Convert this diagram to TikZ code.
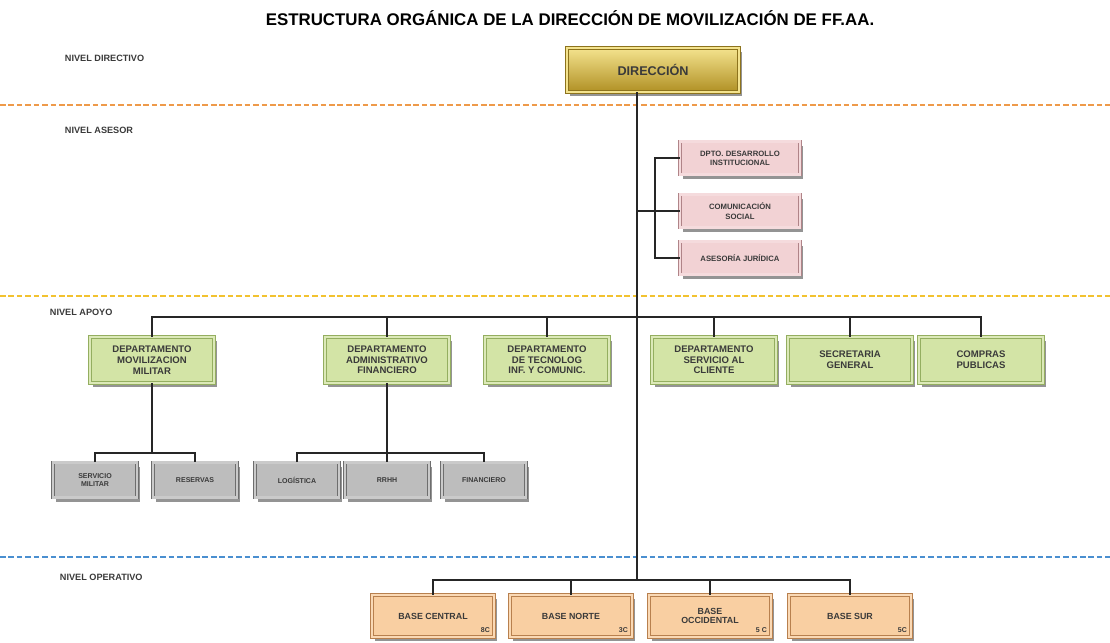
\documentclass[tikz,border=0pt]{standalone}
\usepackage{fontspec}
\setmainfont{Liberation Sans}
\usetikzlibrary{shadows}
\definecolor{oroA}{HTML}{F4E38E}
\definecolor{oroB}{HTML}{B09024}
\definecolor{rosa}{HTML}{F2D2D4}
\definecolor{rosaB}{HTML}{B08488}
\definecolor{verde}{HTML}{D3E4A6}
\definecolor{verdeB}{HTML}{94AE60}
\definecolor{gris}{HTML}{BDBDBD}
\definecolor{grisB}{HTML}{6E6E6E}
\definecolor{naranja}{HTML}{F9CFA2}
\definecolor{naranjaB}{HTML}{B8804E}
\definecolor{lineaNar}{HTML}{EE9A4A}
\definecolor{lineaAma}{HTML}{F2C230}
\definecolor{lineaAzu}{HTML}{4A8FD0}
\definecolor{texto}{HTML}{3A3A3A}
\tikzset{
  caja/.style={rectangle, draw=#1B, line width=0.5pt, double=#1!80!white,
    double distance=1.6pt, fill=#1, align=center, text=texto, inner sep=1pt,
    drop shadow={shadow xshift=2pt, shadow yshift=-3pt, fill=black!70, opacity=0.6}},
  dire/.style={rectangle, draw=oroB!80!black, line width=0.5pt, double=oroA,
    double distance=2pt, top color=oroA, bottom color=oroB, align=center,
    text=texto, minimum width=4.3cm, minimum height=1.1cm,
    font=\bfseries\fontsize{9}{10}\selectfont,
    drop shadow={shadow xshift=2pt, shadow yshift=-3pt, fill=black!70, opacity=0.6}},
  ase/.style={caja=rosa, minimum width=3cm, minimum height=0.82cm,
    font=\bfseries\fontsize{5.5}{6.6}\selectfont},
  apo/.style={caja=verde, minimum width=3.1cm, minimum height=1.15cm,
    font=\bfseries\fontsize{6.8}{7.6}\selectfont},
  sec/.style={caja=gris, minimum width=2.1cm, minimum height=0.88cm,
    font=\bfseries\fontsize{5}{6}\selectfont},
  ope/.style={caja=naranja, minimum width=3.05cm, minimum height=1.05cm,
    font=\bfseries\fontsize{6.3}{7}\selectfont},
  nivel/.style={anchor=west, text=texto, font=\bfseries\fontsize{6.5}{7}\selectfont},
  sigla/.style={anchor=south east, text=texto, inner sep=3pt,
    font=\bfseries\fontsize{5}{5}\selectfont},
  corte/.style={line width=1.6pt, dash pattern=on 4pt off 2pt},
  conector/.style={line width=1pt, black!85}
}
\begin{document}
\begin{tikzpicture}[x=0.025cm, y=-0.025cm]
\useasboundingbox (0,0) rectangle (1110,643);

\node[font=\bfseries\fontsize{12}{14}\selectfont] (titulo) at (570,18)
  {ESTRUCTURA ORGÁNICA DE LA DIRECCIÓN DE MOVILIZACIÓN DE FF.AA.};

\node[nivel] (nDir) at (60,58) {NIVEL DIRECTIVO};
\node[nivel] (nAse) at (60,130) {NIVEL ASESOR};
\node[nivel] (nApo) at (45,312) {NIVEL APOYO};
\node[nivel] (nOpe) at (55,577) {NIVEL OPERATIVO};

\draw[corte, lineaNar] (0,105) -- (1110,105);
\draw[corte, lineaAma] (0,296) -- (1110,296);
\draw[corte, lineaAzu] (0,557) -- (1110,557);

\coordinate (tronco) at (637,580);
\coordinate (cAse) at (655,211);
\coordinate (bApo) at (637,317);
\coordinate (bMov) at (150,453);
\coordinate (bAdm) at (388,453);

% directivo y asesor
\node[dire] (dir) at (653,70) {DIRECCIÓN};
\node[ase] (des) at (740,158) {DPTO. DESARROLLO\\INSTITUCIONAL};
\node[ase] (com) at (740,211) {COMUNICACIÓN\\SOCIAL};
\node[ase] (jur) at (740,258) {ASESORÍA JURÍDICA};

% apoyo
\node[apo] (mov) at (152,360) {DEPARTAMENTO\\MOVILIZACION\\MILITAR};
\node[apo] (adm) at (387,360) {DEPARTAMENTO\\ADMINISTRATIVO\\FINANCIERO};
\node[apo] (tec) at (547,360) {DEPARTAMENTO\\DE TECNOLOG\\INF. Y COMUNIC.};
\node[apo] (cli) at (714,360) {DEPARTAMENTO\\SERVICIO AL\\CLIENTE};
\node[apo] (sec) at (850,360) {SECRETARIA\\GENERAL};
\node[apo] (pub) at (981,360) {COMPRAS\\PUBLICAS};

\node[sec] (smi) at (95,480) {SERVICIO\\MILITAR};
\node[sec] (res) at (195,480) {RESERVAS};
\node[sec] (log) at (297,480) {LOGÍSTICA};
\node[sec] (rrh) at (387,480) {RRHH};
\node[sec] (fin) at (484,480) {FINANCIERO};

% operativo
\node[ope] (bce) at (433,616) {BASE CENTRAL};
\node[ope] (bno) at (571,616) {BASE NORTE};
\node[ope] (boc) at (710,616) {BASE\\OCCIDENTAL};
\node[ope] (bsu) at (850,616) {BASE SUR};
\node[sigla] (sce) at (bce.south east) {8C};
\node[sigla] (sno) at (bno.south east) {3C};
\node[sigla] (soc) at (boc.south east) {5 C};
\node[sigla] (ssu) at (bsu.south east) {5C};

% conectores
\draw[conector] (dir.south -| tronco) -- (tronco);
\draw[conector] (cAse -| tronco) -- (cAse);
\draw[conector] (des.west) -- (des.west -| cAse) -- (jur.west -| cAse) -- (jur.west);
\draw[conector] (com.west) -- (com.west -| cAse);

\draw[conector] (mov.north) -- (mov.north |- bApo) -- (pub.north |- bApo) -- (pub.north);
\foreach \n in {adm,tec,cli,sec}
  \draw[conector] (\n.north) -- (\n.north |- bApo);

\draw[conector] (mov.south) -- (mov.south |- bMov);
\draw[conector] (smi.north) -- (smi.north |- bMov) -- (res.north |- bMov) -- (res.north);
\draw[conector] (adm.south) -- (rrh.north);
\draw[conector] (log.north) -- (log.north |- bAdm) -- (fin.north |- bAdm) -- (fin.north);

\draw[conector] (bce.north) -- (bce.north |- tronco) -- (bsu.north |- tronco) -- (bsu.north);
\foreach \n in {bno,boc}
  \draw[conector] (\n.north) -- (\n.north |- tronco);
\end{tikzpicture}
\end{document}
